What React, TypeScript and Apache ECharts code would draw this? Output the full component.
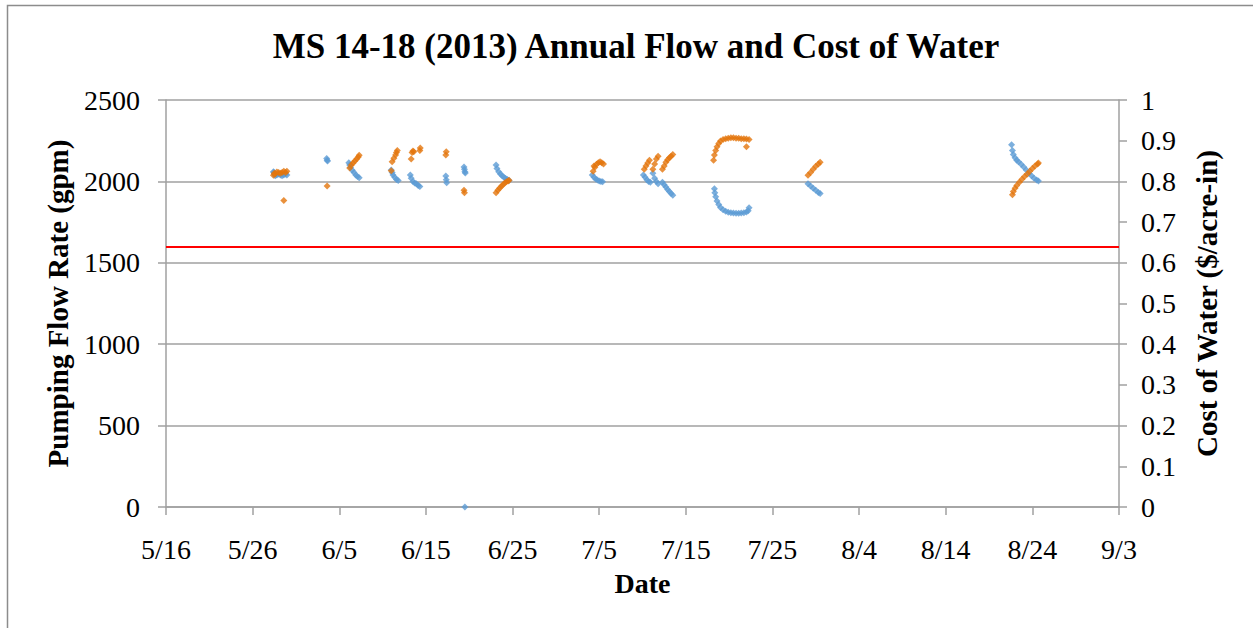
import React, { useEffect, useRef } from "react";
import * as echarts from "echarts";

// Excel date serials (5/16/2013 = 41410) with values
const flowData: [number, number][] = [
  [41422.4, 2060], [41422.45, 2055], [41422.5, 2045], [41422.6, 2035], [41422.8, 2040], [41423.0, 2045],
  [41423.2, 2040], [41423.4, 2035], [41423.6, 2040], [41423.8, 2045], [41423.95, 2040],
  [41428.55, 2140], [41428.6, 2130], [41428.65, 2125],
  [41431.1, 2115], [41431.2, 2100], [41431.3, 2085], [41431.5, 2068], [41431.7, 2055], [41431.9, 2040],
  [41432.1, 2030], [41432.3, 2022],
  [41436.0, 2070], [41436.1, 2055], [41436.2, 2040], [41436.4, 2025], [41436.6, 2012], [41436.8, 2005],
  [41438.2, 2040], [41438.3, 2020], [41438.5, 2000], [41438.7, 1990], [41438.9, 1985], [41439.1, 1975], [41439.3, 1968],
  [41442.3, 2033], [41442.35, 2010], [41442.4, 1992],
  [41444.4, 2088], [41444.45, 2075], [41444.5, 2060], [41444.55, 2052],
  [41444.5, 0],
  [41448.1, 2100], [41448.2, 2080], [41448.4, 2060], [41448.6, 2045], [41448.8, 2035], [41449.0, 2025],
  [41449.2, 2018], [41449.4, 2012], [41449.6, 2005],
  [41459.2, 2040], [41459.4, 2025], [41459.6, 2015], [41459.8, 2008], [41460.0, 2003], [41460.2, 2000], [41460.4, 1998],
  [41465.1, 2040], [41465.3, 2025], [41465.5, 2010], [41465.7, 2000], [41465.9, 1995],
  [41466.2, 2050], [41466.4, 2020], [41466.6, 2000], [41466.8, 1985],
  [41467.3, 1995], [41467.5, 1980], [41467.7, 1965], [41467.9, 1950], [41468.1, 1938], [41468.3, 1925], [41468.5, 1915],
  [41473.3, 1955], [41473.35, 1930], [41473.45, 1905], [41473.6, 1880], [41473.8, 1858], [41474.0, 1840],
  [41474.3, 1826], [41474.6, 1817], [41474.9, 1811], [41475.2, 1808], [41475.5, 1806], [41475.8, 1805],
  [41476.1, 1805], [41476.4, 1806], [41476.7, 1808], [41477.0, 1812], [41477.2, 1820], [41477.3, 1838],
  [41484.1, 1985], [41484.4, 1972], [41484.7, 1958], [41485.0, 1945], [41485.3, 1932], [41485.5, 1925],
  [41507.6, 2225], [41507.7, 2190], [41507.8, 2165], [41508.0, 2145], [41508.2, 2130], [41508.4, 2120],
  [41508.7, 2105], [41509.0, 2088], [41509.3, 2070], [41509.6, 2050], [41509.9, 2035], [41510.2, 2020],
  [41510.5, 2008], [41510.7, 2003],
];

const costData: [number, number][] = [
  [41422.4, 0.815], [41422.5, 0.82], [41422.6, 0.818], [41422.8, 0.823], [41423.0, 0.822], [41423.2, 0.82],
  [41423.4, 0.822], [41423.6, 0.825], [41423.8, 0.822], [41423.95, 0.825], [41423.6, 0.753],
  [41428.6, 0.789],
  [41431.2, 0.833], [41431.4, 0.84], [41431.6, 0.845], [41431.8, 0.85], [41432.0, 0.855], [41432.2, 0.86], [41432.3, 0.864],
  [41436.0, 0.826], [41436.1, 0.848], [41436.3, 0.857], [41436.5, 0.865], [41436.6, 0.871], [41436.7, 0.876],
  [41438.3, 0.855], [41438.4, 0.871], [41438.5, 0.875], [41438.6, 0.873], [41439.3, 0.876], [41439.35, 0.882],
  [41442.3, 0.865], [41442.35, 0.873],
  [41444.4, 0.778], [41444.45, 0.772],
  [41448.1, 0.772], [41448.3, 0.778], [41448.5, 0.783], [41448.7, 0.788], [41448.9, 0.792], [41449.1, 0.796],
  [41449.3, 0.799], [41449.5, 0.801], [41449.6, 0.803],
  [41459.3, 0.825], [41459.4, 0.838], [41459.5, 0.835], [41459.7, 0.842], [41459.9, 0.846], [41460.1, 0.848],
  [41460.3, 0.846], [41460.5, 0.843],
  [41465.2, 0.83], [41465.4, 0.838], [41465.6, 0.845], [41465.8, 0.852],
  [41466.2, 0.83], [41466.4, 0.843], [41466.6, 0.855], [41466.8, 0.862],
  [41467.3, 0.83], [41467.5, 0.838], [41467.7, 0.847], [41467.9, 0.853], [41468.1, 0.858], [41468.3, 0.862], [41468.5, 0.866],
  [41473.2, 0.852], [41473.3, 0.865], [41473.45, 0.876], [41473.6, 0.885], [41473.8, 0.893], [41474.0, 0.899],
  [41474.3, 0.903], [41474.6, 0.905], [41474.9, 0.906], [41475.2, 0.907], [41475.5, 0.907], [41475.8, 0.906],
  [41476.1, 0.906], [41476.4, 0.905], [41476.7, 0.905], [41477.0, 0.904], [41477.3, 0.903], [41477.0, 0.885],
  [41484.1, 0.815], [41484.4, 0.822], [41484.7, 0.83], [41485.0, 0.837], [41485.3, 0.843], [41485.5, 0.847],
  [41507.7, 0.767], [41507.8, 0.775], [41508.0, 0.783], [41508.2, 0.79], [41508.5, 0.798], [41508.8, 0.805],
  [41509.1, 0.812], [41509.4, 0.818], [41509.7, 0.825], [41510.0, 0.832], [41510.3, 0.838], [41510.6, 0.843],
  [41510.7, 0.845],
];

const referenceFlow = 1600;
const xMin = 41410; // 5/16/2013
const xMax = 41520; // 9/3/2013
const xStep = 10;

const FONT = '"Liberation Serif", "Times New Roman", serif';
const AXIS_GRAY = "#a0a0a0";

function serialToLabel(serial: number): string {
  const d = new Date(Date.UTC(1899, 11, 30) + Math.round(serial) * 86400000);
  return `${d.getUTCMonth() + 1}/${d.getUTCDate()}`;
}

export default function App() {
  const ref = useRef<HTMLDivElement>(null);
  useEffect(() => {
    if (!ref.current) return;
    const chart = echarts.init(ref.current, undefined, { renderer: "svg" });
    chart.setOption({
      animation: false,
      backgroundColor: "#ffffff",
      textStyle: { fontFamily: FONT },
      title: {
        text: "MS 14-18 (2013) Annual Flow and Cost of Water",
        left: 631,
        textAlign: "center",
        top: 24,
        textStyle: { fontFamily: FONT, fontSize: 35, fontWeight: "bold", color: "#000" },
      },
      graphic: [
        {
          type: "rect",
          shape: { x: 7.5, y: 5.5, width: 1250, height: 650 },
          style: { fill: "none", stroke: "#8c8c8c", lineWidth: 1.5 },
          silent: true,
        },
      ],
      grid: { left: 166, right: 134, top: 100, bottom: 121, containLabel: false },
      xAxis: {
        type: "value",
        min: xMin,
        max: xMax,
        interval: xStep,
        name: "Date",
        nameLocation: "middle",
        nameGap: 62,
        nameTextStyle: { fontFamily: FONT, fontSize: 28, fontWeight: "bold", color: "#000" },
        axisLine: { show: true, onZero: false, lineStyle: { color: AXIS_GRAY, width: 1.5 } },
        axisTick: { show: true, length: 8, lineStyle: { color: AXIS_GRAY, width: 1.5 } },
        axisLabel: { formatter: (v: number) => serialToLabel(v), fontFamily: FONT, fontSize: 28, color: "#000", margin: 28 },
        splitLine: { show: false },
      },
      yAxis: [
        {
          type: "value",
          min: 0,
          max: 2500,
          interval: 500,
          name: "Pumping Flow Rate (gpm)",
          nameLocation: "middle",
          nameGap: 94,
          nameTextStyle: { fontFamily: FONT, fontSize: 29, fontWeight: "bold", color: "#000" },
          axisLine: { show: true, lineStyle: { color: AXIS_GRAY, width: 1.5 } },
          axisTick: { show: true, length: 8, lineStyle: { color: AXIS_GRAY, width: 1.5 } },
          axisLabel: { formatter: (v: number) => String(v), fontFamily: FONT, fontSize: 28, color: "#000", margin: 26 },
          splitLine: { show: true, lineStyle: { color: AXIS_GRAY, width: 1.5 } },
        },
        {
          type: "value",
          min: 0,
          max: 1,
          interval: 0.1,
          name: "Cost of Water ($/acre-in)",
          nameLocation: "middle",
          nameGap: 73,
          nameTextStyle: { fontFamily: FONT, fontSize: 29, fontWeight: "bold", color: "#000" },
          axisLine: { show: true, lineStyle: { color: AXIS_GRAY, width: 1.5 } },
          axisTick: { show: true, length: 8, lineStyle: { color: AXIS_GRAY, width: 1.5 } },
          axisLabel: { fontFamily: FONT, fontSize: 28, color: "#000", margin: 22 },
          splitLine: { show: false },
        },
      ],
      series: [
        {
          name: "Pumping Flow Rate",
          type: "scatter",
          yAxisIndex: 0,
          symbol: "diamond",
          symbolSize: 7,
          itemStyle: { color: "#5B9BD5" },
          data: flowData,
          markLine: {
            silent: true,
            symbol: "none",
            label: { show: false },
            lineStyle: { color: "#ff0000", width: 2, type: "solid" },
            data: [{ yAxis: referenceFlow }],
          },
        },
        {
          name: "Cost of Water",
          type: "scatter",
          yAxisIndex: 1,
          symbol: "diamond",
          symbolSize: 7,
          itemStyle: { color: "#E3760C" },
          data: costData,
        },
      ],
    });
    return () => chart.dispose();
  }, []);
  return <div ref={ref} style={{ position: "fixed", left: 0, top: 0, width: 1253, height: 628 }} />;
}
